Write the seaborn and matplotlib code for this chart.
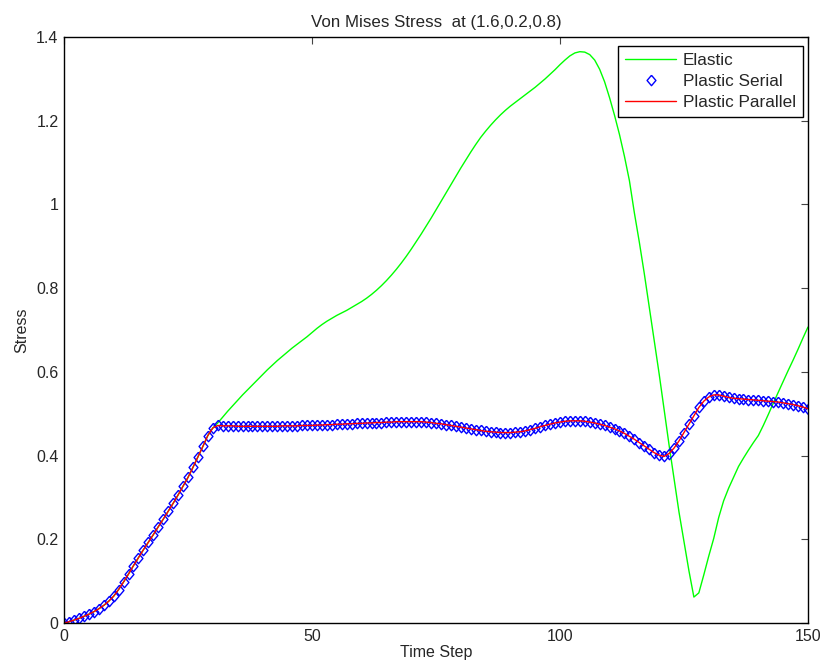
import numpy as np
import pandas as pd
import seaborn as sns
import matplotlib.pyplot as plt

# passos de tempo 0..150
time_step = list(range(151))

# tensao plastica (um valor por passo)
plastic = [
    0.000, 0.003, 0.007, 0.011, 0.016, 0.021, 0.027, 0.034, 0.042, 0.052,
    0.064, 0.080, 0.098, 0.117, 0.137, 0.156, 0.175, 0.193, 0.211, 0.230,
    0.248, 0.267, 0.286, 0.306, 0.327, 0.348, 0.372, 0.397, 0.422, 0.448,
    0.466, 0.472, 0.471, 0.471, 0.471, 0.470, 0.470, 0.470, 0.470, 0.470,
    0.470, 0.470, 0.470, 0.470, 0.471, 0.471, 0.471, 0.471, 0.472, 0.472,
    0.472, 0.473, 0.473, 0.474, 0.474, 0.475, 0.475, 0.476, 0.476, 0.477,
    0.477, 0.478, 0.478, 0.479, 0.479, 0.480, 0.480, 0.481, 0.481, 0.481,
    0.481, 0.481, 0.481, 0.480, 0.479, 0.477, 0.476, 0.474, 0.472, 0.470,
    0.468, 0.466, 0.464, 0.462, 0.460, 0.458, 0.457, 0.456, 0.455, 0.455,
    0.455, 0.456, 0.457, 0.459, 0.462, 0.465, 0.469, 0.472, 0.475, 0.478,
    0.480, 0.482, 0.483, 0.483, 0.483, 0.482, 0.480, 0.478, 0.475, 0.472,
    0.468, 0.464, 0.459, 0.453, 0.446, 0.439, 0.431, 0.423, 0.415, 0.407,
    0.401, 0.398, 0.405, 0.418, 0.435, 0.455, 0.475, 0.495, 0.515, 0.530,
    0.540, 0.545, 0.545, 0.542, 0.539, 0.537, 0.536, 0.535, 0.534, 0.533,
    0.532, 0.531, 0.530, 0.529, 0.528, 0.526, 0.524, 0.522, 0.519, 0.516,
    0.512,
]

# tensao elastica: igual a plastica ate o passo 30, depois segue
elastic_tail = [
    0.478, 0.492, 0.506, 0.519, 0.532, 0.545, 0.557, 0.569, 0.581, 0.593,
    0.605, 0.616, 0.627, 0.637, 0.647, 0.657, 0.666, 0.675, 0.684, 0.694,
    0.704, 0.713, 0.721, 0.728, 0.735, 0.741, 0.747, 0.754, 0.761, 0.768,
    0.776, 0.785, 0.795, 0.806, 0.818, 0.831, 0.845, 0.860, 0.876, 0.893,
    0.911, 0.929, 0.948, 0.967, 0.987, 1.007, 1.027, 1.047, 1.067, 1.087,
    1.106, 1.125, 1.143, 1.160, 1.175, 1.189, 1.202, 1.214, 1.225, 1.235,
    1.244, 1.253, 1.262, 1.271, 1.280, 1.290, 1.300, 1.311, 1.322, 1.334,
    1.345, 1.355, 1.362, 1.365, 1.364, 1.358, 1.345, 1.323, 1.293, 1.255,
    1.213, 1.167, 1.115, 1.057, 0.980, 0.910, 0.835, 0.755, 0.675, 0.595,
    0.510, 0.425, 0.345, 0.265, 0.195, 0.125, 0.062, 0.072, 0.115, 0.160,
    0.202, 0.252, 0.292, 0.322, 0.348, 0.374, 0.394, 0.413, 0.431, 0.448,
    0.472, 0.498, 0.525, 0.551, 0.577, 0.603, 0.628, 0.654, 0.681, 0.707,
]
elastic = plastic[:31] + elastic_tail

df = pd.DataFrame({'Time Step': time_step, 'Elastic': elastic, 'Plastic': plastic})

sns.set_theme(style='white')
plt.rcParams['font.family'] = ['Liberation Sans', 'DejaVu Sans']
plt.rcParams['xtick.direction'] = 'in'
plt.rcParams['ytick.direction'] = 'in'

fig = plt.figure(figsize=(8.22, 6.71), dpi=100)
ax = fig.add_axes([0.0779, 0.0715, 0.905, 0.8733])

# losango estilo MATLAB
diamond = [(0, 1), (0.85, 0), (0, -1), (-0.85, 0), (0, 1)]

sns.lineplot(data=df, x='Time Step', y='Elastic', ax=ax, color='#00ff00', lw=1, label='Elastic')
sns.lineplot(data=df, x='Time Step', y='Plastic', ax=ax, color='blue', linestyle='none',
             marker=diamond, markersize=7.5, markerfacecolor='none', markeredgecolor='blue',
             markeredgewidth=1.0, label='Plastic Serial')
sns.lineplot(data=df, x='Time Step', y='Plastic', ax=ax, color='red', lw=1, label='Plastic Parallel')

ax.set_xlim(0, 150)
ax.set_ylim(0, 1.4)
ax.set_xticks([0, 50, 100, 150])
ax.set_yticks([0, 0.2, 0.4, 0.6, 0.8, 1.0, 1.2, 1.4])
ax.set_yticklabels(['0', '0.2', '0.4', '0.6', '0.8', '1', '1.2', '1.4'])
ax.tick_params(axis='both', labelsize=11.5, length=5, width=0.8, color='#444444',
               top=True, right=True, pad=4)
for s in ax.spines.values():
    s.set_color('black')
    s.set_linewidth(1)

ax.set_title('Von Mises Stress  at (1.6,0.2,0.8)', fontsize=12.2, pad=7)
ax.set_xlabel('Time Step', fontsize=11.5, labelpad=1)
ax.set_ylabel('Stress', fontsize=11.5, labelpad=5)

leg = ax.legend(loc='upper right', bbox_to_anchor=(0.9933, 0.9846), borderaxespad=0,
                fontsize=12.3, frameon=True, fancybox=False, edgecolor='black',
                framealpha=1, handlelength=3.0, handletextpad=0.4,
                labelspacing=0.35, borderpad=0.4)
leg.get_frame().set_linewidth(1)

fig.savefig('out.png', dpi=100)
